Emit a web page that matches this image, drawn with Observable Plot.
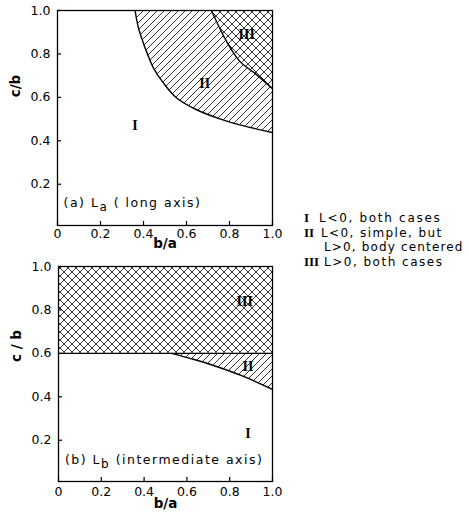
<!DOCTYPE html>
<html><head><meta charset="utf-8">
<script src="https://cdn.jsdelivr.net/npm/d3@7"></script>
<script src="https://cdn.jsdelivr.net/npm/@observablehq/plot@0.6"></script>
<style>
body{margin:0;background:#fff;}
#wrap{position:relative;width:469px;height:516px;font-family:"DejaVu Sans",sans-serif;color:#000;overflow:hidden;}
.panel{position:absolute;left:0;}
.leg{position:absolute;font-size:12px;white-space:nowrap;line-height:14px;height:14px;}
.rn{position:absolute;font-family:"Liberation Serif",serif;font-size:13px;line-height:14px;height:14px;font-weight:bold;}
</style></head><body>
<svg width="0" height="0" style="position:absolute">
<defs>
<pattern id="hatch" patternUnits="userSpaceOnUse" width="7" height="7">
<rect width="7" height="7" fill="white"/>
<path d="M-1,1 L1,-1 M0,7 L7,0 M6,8 L8,6" stroke="black" stroke-width="0.8"/>
</pattern>
<pattern id="cross" patternUnits="userSpaceOnUse" width="8" height="8">
<rect width="8" height="8" fill="white"/>
<path d="M-1,1 L1,-1 M0,8 L8,0 M7,9 L9,7 M-1,7 L1,9 M0,0 L8,8 M7,-1 L9,1" stroke="black" stroke-width="0.8"/>
</pattern>
</defs></svg>
<div id="wrap"></div>
<script>
// ---- data ----
const xTicks = [0, 0.2, 0.4, 0.6, 0.8, 1.0];
const yTicks = [0.2, 0.4, 0.6, 0.8, 1.0];

// Panel (a): boundary between regions I and II
const aIIx = [0.361, 0.376, 0.407, 0.446, 0.492, 0.554, 0.647, 0.755, 0.862, 1.0];
const aIIy = [1.0, 0.922, 0.829, 0.736, 0.667, 0.597, 0.543, 0.501, 0.470, 0.438];
// Panel (a): boundary between regions II and III
const aIIIx = [0.716, 0.785, 0.847, 0.924, 1.0];
const aIIIy = [1.0, 0.86, 0.767, 0.706, 0.64];

// Panel (b): boundary of region III (horizontal)
const bIIIx = [0, 1.0];
const bIIIy = [0.6, 0.6];
// Panel (b): boundary between regions I and II
const bIIx = [0.529, 0.629, 0.707, 0.862, 1.0];
const bIIy = [0.6, 0.573, 0.55, 0.495, 0.434];

const numerals = ["I", "II", "III"];
const aNumX = [0.36, 0.685, 0.88];
const aNumY = [0.47, 0.665, 0.89];
const bNumX = [0.885, 0.885, 0.87];
const bNumY = [0.23, 0.54, 0.84];

const aLabel = ["(a) L", "a", " ( long axis)"];
const bLabel = ["(b) L", "b", " (intermediate axis)"];
const legendText = ["L<0, both cases", "L<0, simple, but", "L>0, body centered", "L>0, both cases"];

// ---- helpers ----
const zip = (xs, ys) => xs.map((x, i) => ({x, y: ys[i]}));
const fmtX = d => d === 0 ? "0" : d.toFixed(1);
const fmtY = d => d.toFixed(1);

const W = 290, H = 260, MT = 10, MB = 35, MR = 18;

function makePanel({regions, bounds, numX, numY, label, ylab, ylabY, marginLeft, labelX, labelY, xlabDy, tickPad, lsp}) {
  const fw = W - marginLeft - MR, fh = H - MT - MB;
  const marks = [];
  for (const r of regions) {
    marks.push(Plot.areaY(r.data, {x: "x", y1: "y", y2: r.top, fill: r.fill, curve: "catmull-rom"}));
  }
  for (const b of bounds) {
    marks.push(Plot.line(b, {x: "x", y: "y", stroke: "black", strokeWidth: 1.4, curve: "catmull-rom"}));
  }
  marks.push(Plot.frame({stroke: "black", strokeWidth: 1.3}));
  // inward ticks
  marks.push(Plot.tickX(xTicks, {x: d => d, insetTop: fh - 4, stroke: "black", strokeWidth: 1.2}));
  marks.push(Plot.tickY(yTicks, {y: d => d, insetRight: fw - 4, stroke: "black", strokeWidth: 1.2}));
  marks.push(Plot.axisX(xTicks, {tickSize: 0, tickPadding: tickPad, tickFormat: fmtX, fontSize: 12.5, label: null}));
  marks.push(Plot.axisY(yTicks, {tickSize: 0, tickPadding: 7, tickFormat: fmtY, fontSize: 12.5, label: null}));
  marks.push(Plot.text(numerals, {x: (d, i) => numX[i], y: (d, i) => numY[i], text: d => d,
    fontFamily: "Liberation Serif, serif", fontSize: 14, fontWeight: "bold"}));
  marks.push(Plot.text([label.join("")], {x: () => labelX, y: () => labelY, text: d => d, textAnchor: "start",
    fontSize: 12.5}));
  marks.push(Plot.text(["b/a"], {frameAnchor: "bottom", dy: xlabDy, text: d => d, fontSize: 13.5, fontWeight: "bold"}));
  marks.push(Plot.text([ylab], {frameAnchor: "left", y: () => ylabY, dx: -42, rotate: -90, text: d => d, fontSize: 13.5, fontWeight: "bold"}));
  const svg = Plot.plot({
    width: W, height: H,
    marginLeft, marginRight: MR, marginTop: MT, marginBottom: MB,
    x: {domain: [0, 1], axis: null},
    y: {domain: [0.01, 1], axis: null},
    style: {fontFamily: "DejaVu Sans, sans-serif", color: "black", background: "white"},
    marks
  });
  // subscript in panel label
  svg.querySelectorAll("text").forEach(t => {
    if (t.textContent === label.join("")) {
      t.textContent = "";
      t.setAttribute("letter-spacing", lsp);
      const ns = "http://www.w3.org/2000/svg";
      const s1 = document.createElementNS(ns, "tspan"); s1.textContent = label[0];
      const s2 = document.createElementNS(ns, "tspan"); s2.textContent = label[1];
      s2.setAttribute("dy", "4"); s2.setAttribute("font-size", "12");
      const s3 = document.createElementNS(ns, "tspan"); s3.textContent = label[2];
      s3.setAttribute("dy", "-4");
      t.append(s1, s2, s3);
    }
  });
  return svg;
}

const wrap = document.getElementById("wrap");

const pa = makePanel({
  regions: [
    {data: zip(aIIx, aIIy), top: () => 1, fill: "url(#hatch)"},
    {data: zip(aIIIx, aIIIy), top: () => 1, fill: "url(#cross)"}
  ],
  bounds: [zip(aIIx, aIIy), zip(aIIIx, aIIIy)],
  numX: aNumX, numY: aNumY, label: aLabel, ylab: "c/b", ylabY: 0.6,
  marginLeft: 57, labelX: 0.028, labelY: 0.112, xlabDy: 22, tickPad: 4, lsp: "1.5"
});
pa.classList.add("panel"); pa.style.top = "0px";
wrap.appendChild(pa);

const pb = makePanel({
  regions: [
    {data: zip(bIIIx, bIIIy), top: () => 1, fill: "url(#cross)"},
    {data: zip(bIIx, bIIy), top: () => 0.6, fill: "url(#hatch)"}
  ],
  bounds: [zip(bIIIx, bIIIy), zip(bIIx, bIIy)],
  numX: bNumX, numY: bNumY, label: bLabel, ylab: "c / b", ylabY: 0.56,
  marginLeft: 58, labelX: 0.03, labelY: 0.111, xlabDy: 26, tickPad: 6, lsp: "1.5"
});
pb.classList.add("panel"); pb.style.top = "256px";
wrap.appendChild(pb);

// legend
const legRows = [
  {num: numerals[0], tx: 319, y: 211, ls: 1.7, text: legendText[0]},
  {num: numerals[1], tx: 321, y: 225.5, ls: 1.4, text: legendText[1]},
  {num: null, tx: 324, y: 240, ls: 1.15, text: legendText[2]},
  {num: numerals[2], tx: 324, y: 254.5, ls: 1.5, text: legendText[3]}
];
for (const r of legRows) {
  if (r.num) {
    const n = document.createElement("div");
    n.className = "rn"; n.textContent = r.num;
    n.style.left = "304px"; n.style.top = r.y + "px";
    wrap.appendChild(n);
  }
  const t = document.createElement("div");
  t.className = "leg"; t.textContent = r.text;
  t.style.letterSpacing = r.ls + "px";
  t.style.left = r.tx + "px"; t.style.top = r.y + "px";
  wrap.appendChild(t);
}
</script>
</body></html>
